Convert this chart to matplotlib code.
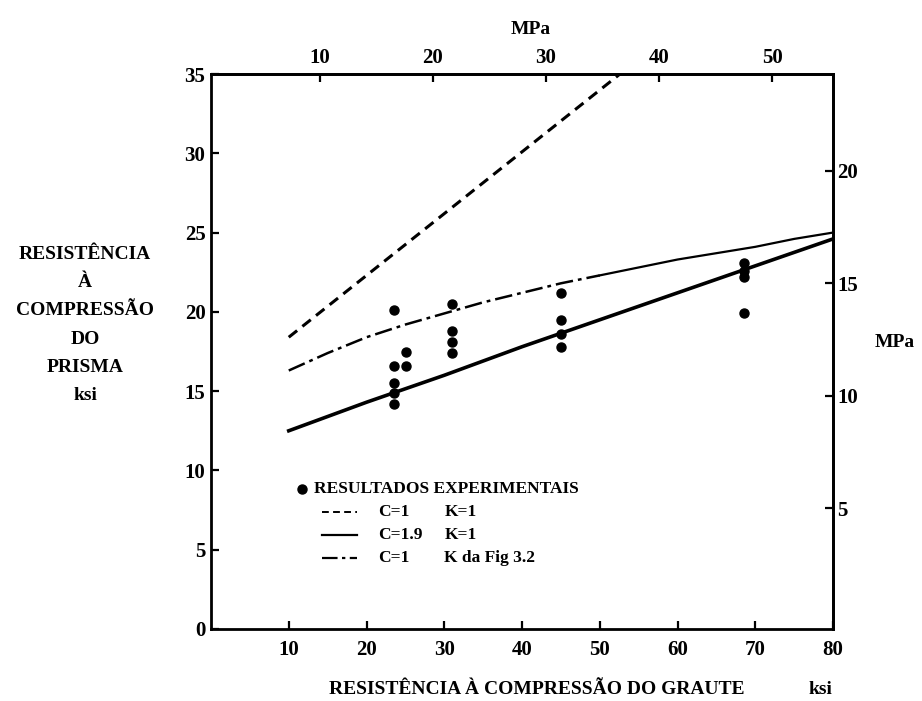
import matplotlib
matplotlib.use("Agg")
import matplotlib.pyplot as plt
import numpy as np

plt.rcParams['font.family'] = ['Liberation Serif', 'DejaVu Serif']
plt.rcParams['font.weight'] = 'bold'

# --- data (ksi) ---
dashed_x = [10, 52.6]
dashed_y = [18.4, 35.0]

solid_x = [10, 20, 30, 40, 50, 60, 70, 80]
solid_y = [12.5, 14.3, 16.0, 17.8, 19.5, 21.2, 22.9, 24.6]

dashdot_x = [10, 15, 20, 25, 30, 35, 40, 45, 50, 55, 60, 65, 70, 75, 80]
dashdot_y = [16.3, 17.4, 18.4, 19.2, 19.9, 20.6, 21.2, 21.8, 22.3, 22.8, 23.3, 23.7, 24.1, 24.6, 25.0]

pts_x = [23.5, 23.5, 23.5, 23.5, 23.5, 25.1, 25.1,
         31.0, 31.0, 31.0, 31.0,
         45.0, 45.0, 45.0, 45.0,
         68.5, 68.5, 68.5, 68.5]
pts_y = [20.1, 16.6, 15.5, 14.9, 14.2, 17.5, 16.6,
         20.5, 18.8, 18.1, 17.4,
         21.2, 19.5, 18.6, 17.8,
         23.1, 22.6, 22.2, 19.9]

x_ticks = [10, 20, 30, 40, 50, 60, 70, 80]
y_ticks = [0, 5, 10, 15, 20, 25, 30, 35]
mpa_ticks_top = [10, 20, 30, 40, 50]
mpa_ticks_right = [5, 10, 15, 20]

fig = plt.figure(figsize=(9.22, 7.01), dpi=100)
ax = fig.add_axes([211/922, 1-629/701, (833-211)/922, (629-74)/701])

ax.plot(dashed_x, dashed_y, color='black', lw=2.2, dashes=(3.5, 2.2))
ax.plot(solid_x, solid_y, color='black', lw=2.6)
split = 8
ax.plot(dashdot_x[:split+1], dashdot_y[:split+1], color='black', lw=1.8, dashes=(7, 2, 1.5, 2))
ax.plot(dashdot_x[split:], dashdot_y[split:], color='black', lw=1.6)
ax.plot(pts_x, pts_y, 'o', color='black', ms=6.5)

ax.set_xlim(0, 80)
ax.set_ylim(0, 35)
ax.set_xticks(x_ticks)
ax.set_yticks(y_ticks)
ax.tick_params(direction='in', length=6, width=1.6, labelsize=15)
ax.tick_params(axis='x', pad=8)
ax.tick_params(axis='y', pad=4)
for s in ax.spines.values():
    s.set_linewidth(2)

# MPa axes
top = ax.secondary_xaxis('top', functions=(lambda x: (x + 0.6) / 1.456, lambda m: m * 1.456 - 0.6))
top.set_xticks(mpa_ticks_top)
top.tick_params(direction='in', length=6, width=1.6, labelsize=15, pad=4)
top.spines['top'].set_linewidth(2)

right = ax.secondary_yaxis('right', functions=(lambda y: (y - 0.5) / 1.42, lambda m: m * 1.42 + 0.5))
right.set_yticks(mpa_ticks_right)
right.tick_params(direction='in', length=6, width=1.6, labelsize=15, pad=3)
right.spines['right'].set_linewidth(2)

fig.text(531/922, 1-29/701, 'MPa', ha='center', va='center', fontsize=14)
fig.text(895/922, 1-343/701, 'MPa', ha='center', va='center', fontsize=14)
fig.text(85/922, 1-325/701, 'RESISTÊNCIA\nÀ\nCOMPRESSÃO\nDO\nPRISMA\nksi',
         ha='center', va='center', multialignment='center', fontsize=14, linespacing=1.85)
fig.text(329/922, 1-689/701, 'RESISTÊNCIA À COMPRESSÃO DO GRAUTE', ha='left', va='center', fontsize=14)
fig.text(820/922, 1-689/701, 'ksi', ha='center', va='center', fontsize=14)

# legend drawn by hand
rows = [8.8, 7.4, 5.95, 4.5]
ax.plot([11.7], [rows[0]], 'o', color='black', ms=6.5)
ax.text(13.3, rows[0], 'RESULTADOS EXPERIMENTAIS', va='center', fontsize=12.5)
ax.plot([14.3, 18.8], [rows[1], rows[1]], color='black', lw=1.4, dashes=(3.5, 2.2))
ax.plot([14.3, 18.8], [rows[2], rows[2]], color='black', lw=1.6)
ax.plot([14.3, 18.8], [rows[3], rows[3]], color='black', lw=1.6, dashes=(7, 2, 1.5, 2))
labels_c = ['C=1', 'C=1.9', 'C=1']
labels_k = ['K=1', 'K=1', 'K da Fig 3.2']
for r, c, k in zip(rows[1:], labels_c, labels_k):
    ax.text(21.5, r, c, va='center', fontsize=12.5)
    ax.text(30.0, r, k, va='center', fontsize=12.5)

fig.savefig('out.png', dpi=100)
